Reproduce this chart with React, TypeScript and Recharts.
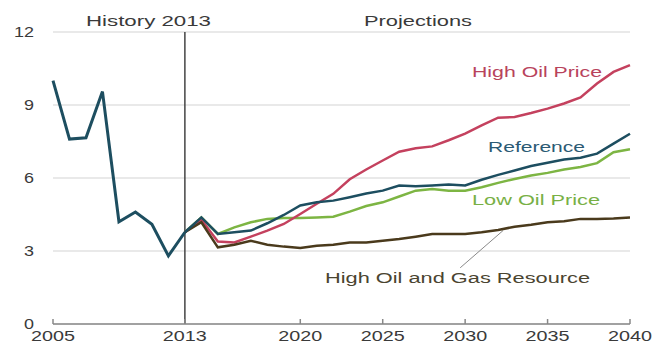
import { LineChart, Line, XAxis, YAxis, CartesianGrid, ReferenceLine } from "recharts"

const historyYears = [2005, 2006, 2007, 2008, 2009, 2010, 2011, 2012, 2013]
const historyValues = [10.0, 7.6, 7.65, 9.55, 4.2, 4.6, 4.1, 2.8, 3.77]

const projectionYears = [
  2013, 2014, 2015, 2016, 2017, 2018, 2019, 2020, 2021, 2022, 2023, 2024, 2025, 2026,
  2027, 2028, 2029, 2030, 2031, 2032, 2033, 2034, 2035, 2036, 2037, 2038, 2039, 2040,
]
const referenceValues = [
  3.77, 4.38, 3.7, 3.77, 3.84, 4.14, 4.48, 4.87, 5.0, 5.07, 5.21, 5.36, 5.48, 5.69,
  5.66, 5.69, 5.73, 5.69, 5.93, 6.13, 6.31, 6.49, 6.63, 6.76, 6.83, 7.0, 7.41, 7.82,
]
const lowOilValues = [
  3.77, 4.38, 3.7, 3.97, 4.18, 4.32, 4.36, 4.36, 4.38, 4.41, 4.62, 4.85, 5.0, 5.24,
  5.48, 5.55, 5.48, 5.48, 5.62, 5.8, 5.96, 6.1, 6.21, 6.35, 6.45, 6.61, 7.06, 7.18,
]
const highOilValues = [
  3.77, 4.28, 3.39, 3.35, 3.59, 3.84, 4.11, 4.52, 4.94, 5.35, 5.95, 6.35, 6.72, 7.08,
  7.22, 7.3, 7.55, 7.82, 8.16, 8.48, 8.51, 8.67, 8.85, 9.06, 9.31, 9.88, 10.36, 10.64,
]
const highResourceValues = [
  3.77, 4.18, 3.15, 3.26, 3.42, 3.26, 3.18, 3.12, 3.22, 3.26, 3.35, 3.35, 3.42, 3.49,
  3.59, 3.7, 3.7, 3.7, 3.77, 3.86, 4.0, 4.08, 4.18, 4.22, 4.32, 4.32, 4.34, 4.38,
]

const xTicks = [2005, 2013, 2020, 2025, 2030, 2035, 2040]
const yTicks = [0, 3, 6, 9, 12]

// one row per year, series left empty where they don't apply
const allYears = Array.from(new Set([...historyYears, ...projectionYears]))
const data = allYears.map((year) => {
  const h = historyYears.indexOf(year)
  const p = projectionYears.indexOf(year)
  return {
    year,
    history: h >= 0 ? historyValues[h] : undefined,
    reference: p >= 0 ? referenceValues[p] : undefined,
    lowOil: p >= 0 ? lowOilValues[p] : undefined,
    highOil: p >= 0 ? highOilValues[p] : undefined,
    highResource: p >= 0 ? highResourceValues[p] : undefined,
  }
})

const FONT = "'Liberation Sans', Arial, sans-serif"
const TEXT = "#3a3a3a"

function XTick({ x, y, payload }: any) {
  return (
    <g>
      <line x1={x} y1={y} x2={x} y2={y - 5} stroke="#888888" strokeWidth={1.5} />
      <text
        x={x}
        y={y + 17}
        textAnchor="middle"
        fontSize={14}
        fontFamily={FONT}
        fill={TEXT}
        textLength={44}
        lengthAdjust="spacingAndGlyphs"
      >
        {payload.value}
      </text>
    </g>
  )
}

function YTick({ x, y, payload }: any) {
  const s = String(payload.value)
  return (
    <text
      x={x - 19}
      y={y + 5}
      textAnchor="end"
      fontSize={14}
      fontFamily={FONT}
      fill={TEXT}
      textLength={s.length * 10}
      lengthAdjust="spacingAndGlyphs"
    >
      {s}
    </text>
  )
}

function Note({ x, y, w, color, children }: any) {
  return (
    <text
      x={x}
      y={y}
      fontSize={14}
      fontFamily={FONT}
      fill={color}
      textLength={w}
      lengthAdjust="spacingAndGlyphs"
    >
      {children}
    </text>
  )
}

export default function App() {
  return (
    <div style={{ position: "absolute", left: 0, top: 0, width: 662, height: 346, background: "#fff" }}>
      <LineChart width={662} height={346} data={data} margin={{ top: 32, right: 32, left: 0, bottom: 0 }}>
        <CartesianGrid vertical={false} stroke="#d4d4d4" strokeWidth={1.2} />
        <XAxis
          dataKey="year"
          type="number"
          domain={[2005, 2040]}
          ticks={xTicks}
          tick={<XTick />}
          tickLine={false}
          tickSize={0}
          tickMargin={0}
          height={22}
          stroke="#888888"
          strokeWidth={1.5}
        />
        <YAxis
          domain={[0, 12]}
          ticks={yTicks}
          tick={<YTick />}
          axisLine={false}
          tickLine={false}
          tickSize={0}
          tickMargin={0}
          width={53}
        />
        <ReferenceLine x={2013} stroke="#444444" strokeWidth={1.5} />
        <ReferenceLine
          segment={[
            { x: 2029.7, y: 2.31 },
            { x: 2032.3, y: 3.84 },
          ]}
          stroke="#8a8a8a"
          strokeWidth={1}
        />
        <Line dataKey="lowOil" stroke="#7db543" strokeWidth={2.5} dot={false} isAnimationActive={false} />
        <Line dataKey="highOil" stroke="#c4415e" strokeWidth={2.5} dot={false} isAnimationActive={false} />
        <Line dataKey="highResource" stroke="#4a3a1c" strokeWidth={2.5} dot={false} isAnimationActive={false} />
        <Line dataKey="reference" stroke="#1d4e60" strokeWidth={2.5} dot={false} isAnimationActive={false} />
        <Line dataKey="history" stroke="#1d4e60" strokeWidth={3} dot={false} isAnimationActive={false} />
      </LineChart>
      <svg width={662} height={346} style={{ position: "absolute", left: 0, top: 0, pointerEvents: "none" }}>
        <Note x={86} y={26} w={125} color={TEXT}>History 2013</Note>
        <Note x={364} y={26} w={108} color={TEXT}>Projections</Note>
        <Note x={472} y={77} w={130} color="#b8435c">High Oil Price</Note>
        <Note x={488} y={152} w={97} color="#2b5a74">Reference</Note>
        <Note x={472} y={205} w={128} color="#78b045">Low Oil Price</Note>
        <Note x={325} y={283} w={265} color="#4a4430">High Oil and Gas Resource</Note>
      </svg>
    </div>
  )
}
